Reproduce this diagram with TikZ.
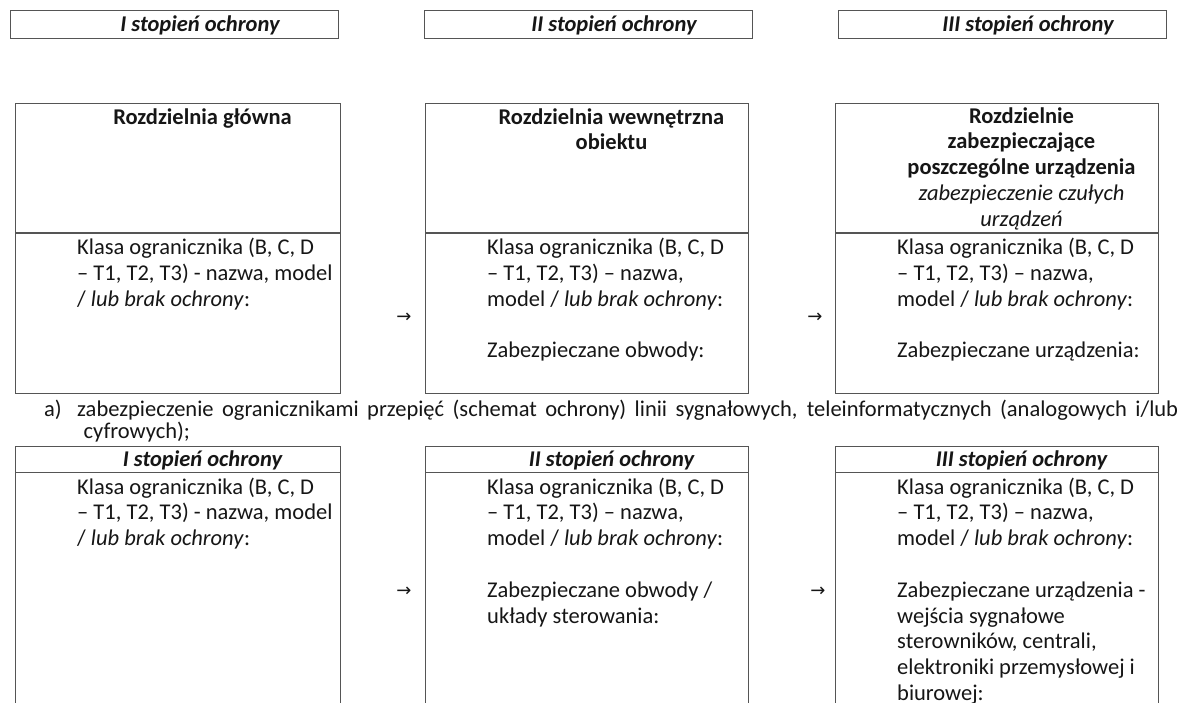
\documentclass[tikz,border=0pt]{standalone}
\usepackage{fontspec}
\setmainfont{Carlito}
\newfontfamily\arrowfont{DejaVu Sans}
\definecolor{bordc}{HTML}{555555}
\definecolor{txtc}{HTML}{161616}
\newcommand{\lbody}[1]{\begin{tabular}[t]{@{}l@{}}#1\end{tabular}}
\newcommand{\cbody}[1]{\begin{tabular}[t]{@{}c@{}}#1\end{tabular}}
\tikzset{
  box/.style={draw=bordc, line width=1.4pt, rectangle, inner sep=0pt, anchor=north west},
  divline/.style={draw=bordc, line width=1.4pt},
  txt/.style={inner sep=0pt, text=txtc, font=\fontsize{22.5}{25.8}\selectfont},
  hdr/.style={txt, anchor=base, font=\fontsize{22.5}{25.8}\selectfont\bfseries\itshape},
  ttl/.style={txt, anchor=base, font=\fontsize{22.5}{25.8}\selectfont\bfseries},
  body/.style={txt, anchor=base west},
  arr/.style={inner sep=0pt, text=txtc, font=\arrowfont\fontsize{18}{20}\selectfont}
}
\begin{document}
\begin{tikzpicture}[x=1pt, y=-1pt]
\useasboundingbox (0,0) rectangle (1183,702);
\clip (0,0) rectangle (1183,702);
\fill[white] (0,0) rectangle (1183,702);

% top header boxes
\node[box, minimum width=328pt, minimum height=28pt] (h1) at (10,10) {};
\node[box, minimum width=328pt, minimum height=28pt] (h2) at (424,10) {};
\node[box, minimum width=328pt, minimum height=28pt] (h3) at (838,10) {};
\node[hdr] (h1t) at (200,31.5) {I stopień ochrony};
\node[hdr] (h2t) at (614,31.5) {II stopień ochrony};
\node[hdr] (h3t) at (1028,31.5) {III stopień ochrony};

% row 1 boxes
\node[box, minimum width=325pt, minimum height=290pt] (a1) at (15,102.5) {};
\node[box, minimum width=323pt, minimum height=290pt] (b1) at (425,102.5) {};
\node[box, minimum width=323pt, minimum height=290pt] (c1) at (835,102.5) {};
\coordinate (a1l) at (15,233); \coordinate (a1r) at (340,233);
\coordinate (b1l) at (425,233); \coordinate (b1r) at (748,233);
\coordinate (c1l) at (835,233); \coordinate (c1r) at (1158,233);
\draw[divline] (a1l) -- (a1r);
\draw[divline] (b1l) -- (b1r);
\draw[divline] (c1l) -- (c1r);

\node[ttl] (a1t) at (202.5,124) {\cbody{Rozdzielnia główna}};
\node[ttl] (b1t) at (611.5,124) {\cbody{Rozdzielnia wewnętrzna\\obiektu}};
\node[ttl] (c1t) at (1021.5,123) {\cbody{Rozdzielnie\\zabezpieczające\\poszczególne urządzenia\\\mdseries\itshape zabezpieczenie czułych\\\mdseries\itshape urządzeń}};

\node[body] (a1b) at (77,254.5) {\lbody{Klasa ogranicznika (B, C, D\\– T1, T2, T3) - nazwa, model\\/ \textit{lub brak ochrony}:}};
\node[body] (b1b) at (487,254.5) {\lbody{Klasa ogranicznika (B, C, D\\– T1, T2, T3) – nazwa,\\model / \textit{lub brak ochrony}:\\ \\Zabezpieczane obwody:}};
\node[body] (c1b) at (897,254.5) {\lbody{Klasa ogranicznika (B, C, D\\– T1, T2, T3) – nazwa,\\model / \textit{lub brak ochrony}:\\ \\Zabezpieczane urządzenia:}};

\node[arr] (r1a) at (404,318) {→};
\node[arr] (r1b) at (815,318) {→};

% paragraph
\node[txt, anchor=base west] (pa) at (44,416.5) {a)};
\node[txt, anchor=base west] (pl1) at (77,416.5) {\makebox[1101pt][s]{zabezpieczenie ogranicznikami przepięć (schemat ochrony) linii sygnałowych, teleinformatycznych (analogowych i/lub}};
\node[txt, anchor=base west] (pl2) at (83.5,438) {cyfrowych);};

% row 2 boxes
\node[box, minimum width=325pt, minimum height=300pt] (a2) at (15,446) {};
\node[box, minimum width=323pt, minimum height=300pt] (b2) at (425,446) {};
\node[box, minimum width=323pt, minimum height=300pt] (c2) at (835,446) {};
\coordinate (a2l) at (15,472.5); \coordinate (a2r) at (340,472.5);
\coordinate (b2l) at (425,472.5); \coordinate (b2r) at (748,472.5);
\coordinate (c2l) at (835,472.5); \coordinate (c2r) at (1158,472.5);
\draw[divline] (a2l) -- (a2r);
\draw[divline] (b2l) -- (b2r);
\draw[divline] (c2l) -- (c2r);

\node[hdr] (a2t) at (202.5,466.5) {I stopień ochrony};
\node[hdr] (b2t) at (611.5,466.5) {II stopień ochrony};
\node[hdr] (c2t) at (1021.5,466.5) {III stopień ochrony};

\node[body] (a2b) at (77,494) {\lbody{Klasa ogranicznika (B, C, D\\– T1, T2, T3) - nazwa, model\\/ \textit{lub brak ochrony}:}};
\node[body] (b2b) at (487,494) {\lbody{Klasa ogranicznika (B, C, D\\– T1, T2, T3) – nazwa,\\model / \textit{lub brak ochrony}:\\ \\Zabezpieczane obwody /\\układy sterowania:}};
\node[body] (c2b) at (897,494) {\lbody{Klasa ogranicznika (B, C, D\\– T1, T2, T3) – nazwa,\\model / \textit{lub brak ochrony}:\\ \\Zabezpieczane urządzenia -\\wejścia sygnałowe\\sterowników, centrali,\\elektroniki przemysłowej i\\biurowej:}};

\node[arr] (r2a) at (404,592) {→};
\node[arr] (r2b) at (818,592) {→};
\end{tikzpicture}
\end{document}
